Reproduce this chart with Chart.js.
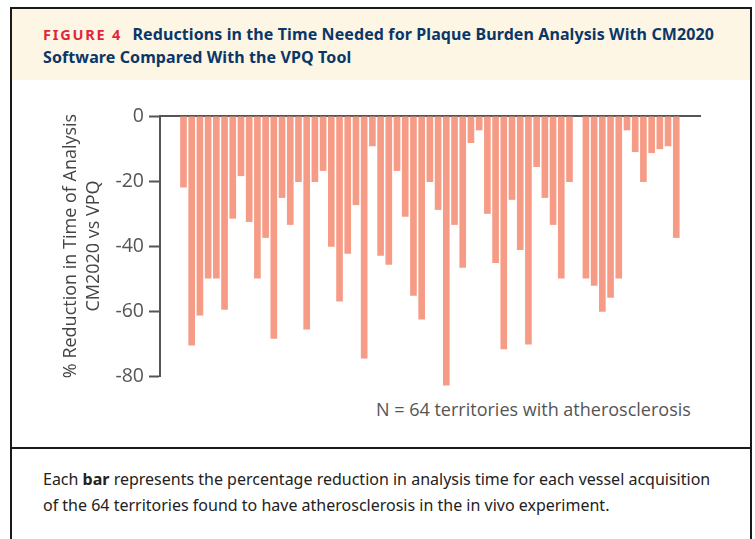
<!DOCTYPE html>
<html>
<head>
<meta charset="utf-8">
<script src="https://cdn.jsdelivr.net/npm/chart.js@4.4.1/dist/chart.umd.min.js"></script>
<style>
  body { margin: 0; background: #fff; width: 755px; height: 539px; overflow: hidden; position: relative; }
  #frame { position: absolute; left: 10px; top: 7px; width: 738px; height: 560px; border: 2px solid #1a1a1a; border-bottom: none; }
  #head { background: #fdf6e4; height: 71px; padding: 14px 0 0 31px; box-sizing: border-box; font-family: "Noto Sans", sans-serif; font-weight: bold; }
  #head .fig { color: #e2263a; font-size: 14.5px; letter-spacing: 1.8px; margin-right: 6px; }
  #head .ttl { color: #0b3668; font-size: 16px; line-height: 23px; letter-spacing: 0.1px; }
  #divider { position: absolute; left: 0; top: 438px; width: 738px; height: 2px; background: #1a1a1a; }
  #caption { position: absolute; left: 31px; top: 457px; font-family: "Noto Sans", sans-serif; font-size: 16px; line-height: 26px; color: #222; }
  #note { position: absolute; left: 376px; top: 397px; font-family: "Open Sans", sans-serif; font-size: 18px; color: #555; }
  canvas { position: absolute; left: 0; top: 0; }
</style>
</head>
<body>
<div id="frame">
  <div id="head"><span class="ttl"><span class="fig">FIGURE 4</span> Reductions in the Time Needed for Plaque Burden Analysis With CM2020<br>Software Compared With the VPQ Tool</span></div>
  <div id="divider"></div>
  <div id="caption">Each <b>bar</b> represents the percentage reduction in analysis time for each vessel acquisition<br>of the 64 territories found to have atherosclerosis in the in vivo experiment.</div>
</div>
<div id="note">N = 64 territories with atherosclerosis</div>
<canvas id="reduction-chart" width="755" height="447"></canvas>
<script>
// territory number along x (64 territories)
var territories = Array.from({length: 64}, function (_, i) { return i + 1; });

// % reduction in time of analysis
var reduction = [
    0, 0,
    -22, -70.6, -61.4, -50, -50, -59.6, -31.6, -18.5, -32.6, -50,
    -37.5, -68.5, -25.2, -33.5, -20.3, -65.7, -20.3, -16.9, -40.2, -57.1,
    -42.4, -27.4, -74.6, -9.3, -43, -45.8, -16.9, -31, -55.3, -62.6,
    -20.3, -28.9, -82.9, -33.5, -46.7, -8.3, -4.4, -30.1, -45.2, -71.8,
    -25.8, -41.2, -70.3, -15.7, -25.2, -33.5, -50, -20.3,
    0,
    -50, -52.2, -60.2, -55.9, -50, -4.4, -11.1, -20.3, -11.4, -10.2,
    -9.3, -37.5,
    0
];

var yTicks = [0, -20, -40, -60, -80];
var yTitle = ["% Reduction in Time of Analysis", "CM2020 vs VPQ"];

var ctx = document.getElementById("reduction-chart");
var chart = new Chart(ctx, {
    type: "bar",
    data: {
        labels: territories,
        datasets: [{
            label: "Reduction",
            data: reduction,
            backgroundColor: "#f69c86",
            borderWidth: 0,
            barPercentage: 0.81,
            categoryPercentage: 1,
            clip: false
        }]
    },
    options: {
        responsive: false,
        animation: false,
        layout: { padding: { left: 0, top: 116, right: 55, bottom: 71 } },
        plugins: { legend: { display: false }, tooltip: { enabled: false } },
        scales: {
            x: {
                type: "linear",
                position: "top",
                offset: false,
                min: 0.14,
                max: 65.89,
                ticks: { display: false },
                grid: { drawOnChartArea: false, drawTicks: false },
                border: { display: true, color: "#555", width: 2 },
                afterFit: function (scale) { scale.height = 0; }
            },
            y: {
                min: -80,
                max: 0,
                afterBuildTicks: function (scale) {
                    scale.ticks = yTicks.map(function (v) { return { value: v }; });
                },
                ticks: {
                    color: "#555",
                    font: { family: "Open Sans", size: 19.5 },
                    padding: 5
                },
                grid: { drawOnChartArea: false, tickLength: 11, tickColor: "#555", tickWidth: 2 },
                border: { display: true, color: "#555", width: 2 },
                title: {
                    display: true,
                    text: yTitle,
                    color: "#444",
                    font: { family: "Open Sans", size: 18, lineHeight: 1.28 },
                    padding: { top: 59, bottom: 0 }
                },
                afterFit: function (scale) { scale.width = 160; }
            }
        }
    }
});
</script>
</body>
</html>
